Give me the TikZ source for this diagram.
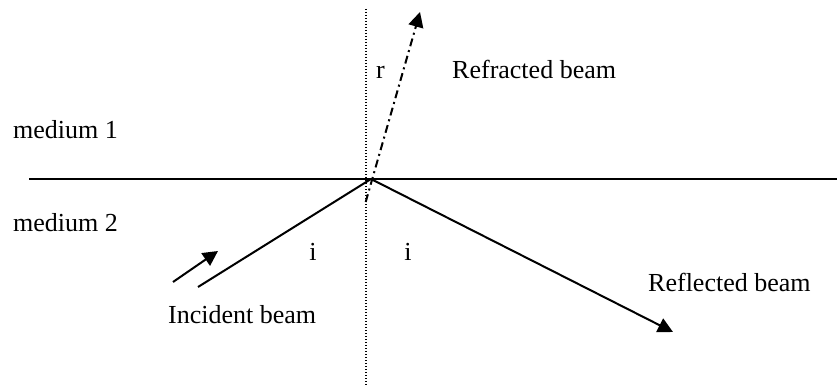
\documentclass[tikz,border=0pt]{standalone}
\usepackage{fontspec}
\setmainfont{Liberation Serif}
\usetikzlibrary{arrows.meta}
\begin{document}
\begin{tikzpicture}[x=1pt,y=-1pt,
  beam/.style={line width=2pt},
  tri/.style={-{Triangle[length=15pt,width=15pt]}},
  lbl/.style={anchor=base west,inner sep=0pt,font=\fontsize{26}{30}\selectfont},
  lblc/.style={anchor=base,inner sep=0pt,font=\fontsize{26}{30}\selectfont}]
\useasboundingbox (0,0) rectangle (837,385);
% points
\coordinate (O) at (371,179);
\coordinate (Lleft) at (29,179);
\coordinate (Lright) at (837,179);
\coordinate (Ntop) at (366,9);
\coordinate (Nbot) at (366,385);
\coordinate (Istart) at (198,287);
\coordinate (Rend) at (673,332);
\coordinate (Fstart) at (365.7,202);
\coordinate (Fend) at (420,12);
\coordinate (Astart) at (173,282);
\coordinate (Aend) at (218,251);
% interface and normal
\draw[line width=1.6pt] (Lleft) -- (Lright);
\draw[line width=1.2pt,dash pattern=on 1.2pt off 1.8pt] (Ntop) -- (Nbot);
% beams
\draw[beam] (Istart) -- (O);
\draw[beam,tri] (O) -- (Rend);
\draw[beam,tri,dash pattern=on 8pt off 4pt on 2pt off 4pt] (Fstart) -- (Fend);
\draw[beam,tri] (Astart) -- (Aend);
% labels
\node[lbl] (m1) at (13,139) {medium 1};
\node[lbl] (m2) at (13,231) {medium 2};
\node[lbl] (refr) at (452,79) {Refracted beam};
\node[lbl] (r) at (376,79) {r};
\node[lblc] (i1) at (313,260) {i};
\node[lblc] (i2) at (408,260) {i};
\node[lbl] (inc) at (168,323) {Incident beam};
\node[lbl] (refl) at (648,291) {Reflected beam};
\end{tikzpicture}
\end{document}
